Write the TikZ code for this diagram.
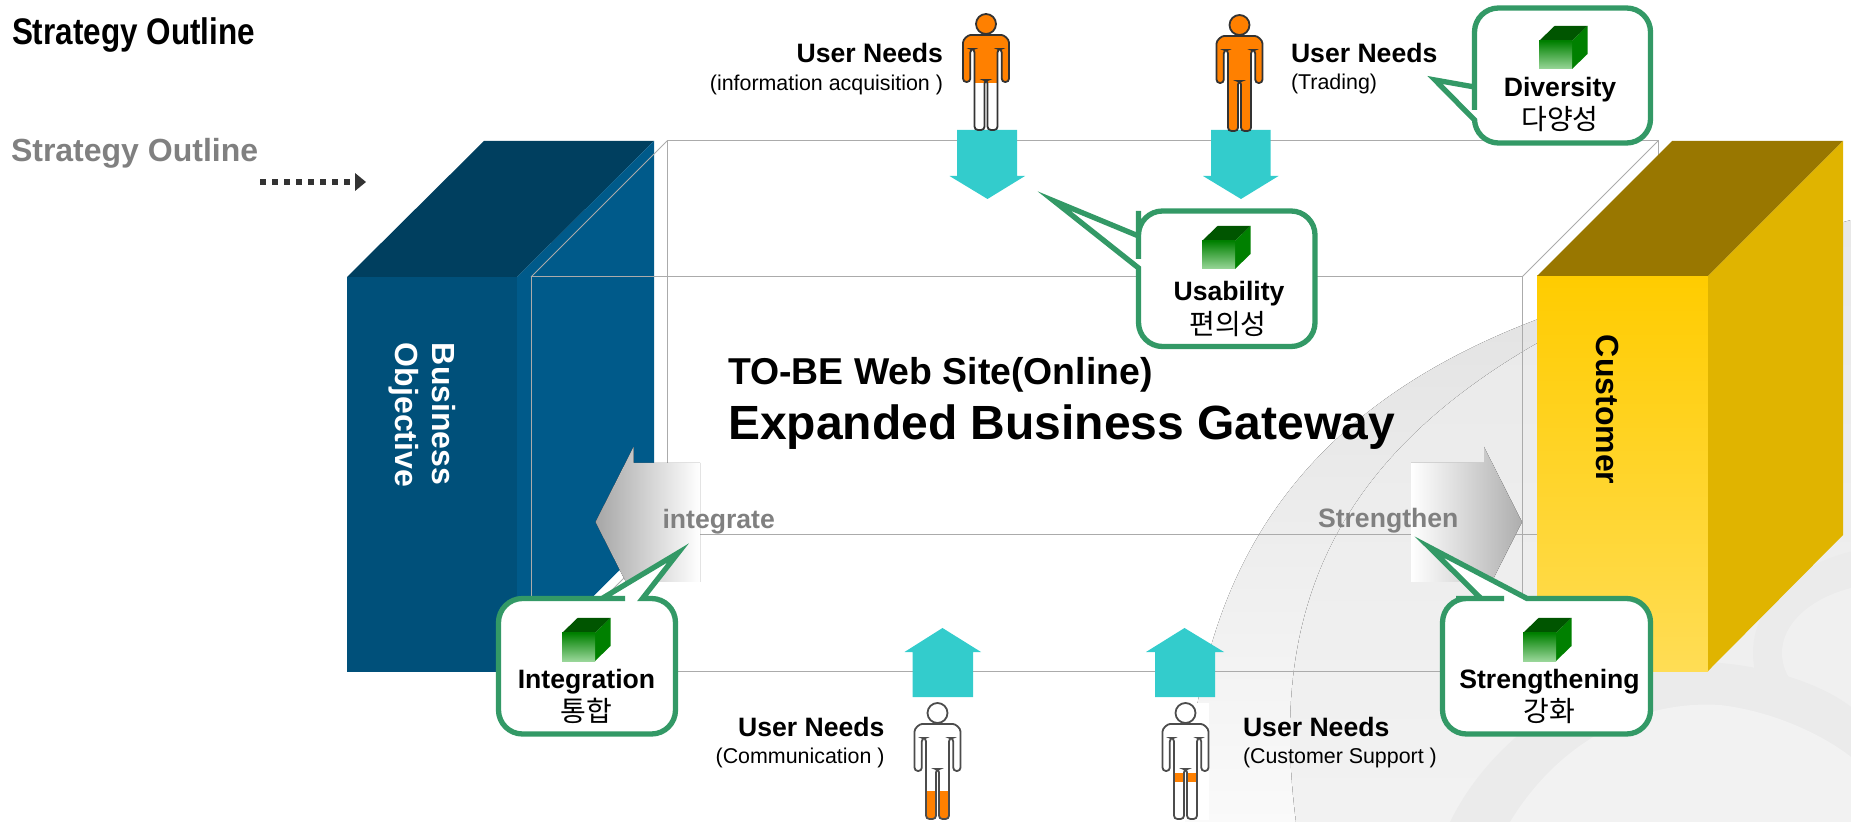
\documentclass[tikz,border=0pt]{standalone}
\usepackage{fontspec}
\setmainfont{Liberation Sans}
\newfontfamily\krfont{Noto Sans CJK KR}
\usepackage{tikz}

% Outline of a standing figure, head top at (0,0)
\newcommand{\figoutline}{(0,10) circle [radius=10]
	[rounded corners=1.7pt] (0,21) -- (-12,21) .. controls (-18,21) and (-23,25) .. (-23,32) -- (-23,68) -- (-15.7,68) -- (-15.7,35) -- (-11.5,35) -- (-11.5,116) -- (-1.5,116) -- (-1.5,66) -- (1.5,66) -- (1.5,116) -- (11.5,116) -- (11.5,35) -- (15.7,35) -- (15.7,68) -- (23,68) -- (23,32) .. controls (23,25) and (18,21) .. (12,21) -- cycle}

% Figure: x, y, outline colour, orange from, orange to
\newcommand{\userfig}[5]{
	\begin{scope}[shift={(#1,#2)}]
		\fill[white] \figoutline;
		\begin{scope}
			\clip \figoutline;
			\fill[needorange] (-30,#4) rectangle (30,#5);
		\end{scope}
		\draw[#3, line width=0.9pt] \figoutline;
	\end{scope}
}

% Small green cube: x and y of the front face corner
\newcommand{\greencube}[2]{
	\fill[cubetop] (#1,#2) -- ++(15.5,-15) -- ++(33,0) -- ++(-15.5,15) -- cycle;
	\fill[cubeside] (#1+33,#2) -- ++(15.5,-15) -- ++(0,28) -- ++(-15.5,15) -- cycle;
	\fill[top color=cubeside, bottom color=cubelight] (#1,#2) rectangle ++(33,28);
}

\definecolor{needorange}{HTML}{FF8000}
\definecolor{cubetop}{HTML}{005500}
\definecolor{cubeside}{HTML}{008000}
\definecolor{cubelight}{HTML}{99D699}
\definecolor{tealarrow}{HTML}{33CCCC}
\definecolor{calloutgreen}{HTML}{339966}
\definecolor{wiregray}{HTML}{ABABAB}
\definecolor{labelgray}{HTML}{808080}
\definecolor{bluefront}{HTML}{00507A}
\definecolor{blueside}{HTML}{005A8A}
\definecolor{bluetop}{HTML}{003F5F}
\definecolor{yellowfront}{HTML}{FFCC00}
\definecolor{yellowlow}{HTML}{FFDD55}
\definecolor{yellowtop}{HTML}{997700}
\definecolor{yellowside}{HTML}{E0B400}

\begin{document}
\begin{tikzpicture}[x=0.5pt, y=-0.5pt,
	every node/.style={inner sep=0pt, outer sep=0pt},
	wire/.style={draw=wiregray, line width=0.5pt},
	tealhead/.style={fill=tealarrow},
	callout/.style={draw=calloutgreen, fill=white, line width=2.65pt, miter limit=12},
	needs/.style={font=\bfseries\fontsize{13.3}{15}\selectfont},
	needsub/.style={font=\fontsize{10.7}{12}\selectfont},
	boxtitle/.style={font=\bfseries\fontsize{13.3}{15}\selectfont, anchor=base},
	boxkr/.style={font=\krfont\fontsize{14}{15}\selectfont, anchor=base},
	sidelabel/.style={font=\bfseries\fontsize{16}{18}\selectfont, rotate=-90, anchor=base west}]

	\useasboundingbox (0,0) rectangle (1851,822);

	% Light background rings
	\begin{scope}
		\clip (0,0) rectangle (1851,822);
		\fill[top color=black!12, bottom color=black!2] (1185,822) .. controls (1195,560) and (1300,310) .. (1851,250) -- (1851,822) -- cycle;
		\fill[top color=black!9, bottom color=black!5] (1296,822) .. controls (1265,580) and (1340,360) .. (1851,220) -- (1851,822) -- cycle;
		\fill[black!8] (1892,653) ellipse [x radius=139, y radius=106];
		\fill[black!6] (1892,653) ellipse [x radius=110, y radius=70];
		\fill[black!8] (1450,822) .. controls (1500,720) and (1620,655) .. (1720,663) .. controls (1780,668) and (1830,690) .. (1851,707) -- (1851,822) -- cycle;
		\fill[black!5] (1510,822) .. controls (1560,740) and (1640,700) .. (1720,705) .. controls (1780,712) and (1830,740) .. (1851,757) -- (1851,822) -- cycle;
	\end{scope}

	% Left block
	\fill[bluefront] (347,277) rectangle (517,672);
	\fill[bluetop] (347,277) -- (484,141) -- (654,141) -- (517,277) -- cycle;
	\fill[blueside] (517,277) -- (654,141) -- (654,536) -- (517,672) -- cycle;

	% Wire frame of the middle box
	\draw[wire] (667,141) rectangle (1658,535);
	\draw[wire] (531,277) rectangle (1522,671);
	\draw[wire] (531,277) -- (667,141);
	\draw[wire] (1522,277) -- (1658,141);
	\draw[wire] (531,671) -- (667,535);

	% Right block
	\fill[top color=yellowfront, bottom color=yellowlow] (1537,276) rectangle (1708,671);
	\fill[yellowtop] (1537,276) -- (1672,141) -- (1843,141) -- (1708,276) -- cycle;
	\fill[yellowside] (1708,276) -- (1843,141) -- (1843,535) -- (1708,671) -- cycle;

	% Gray arrows
	\fill[left color=black!35, right color=white] (595.5,522) -- (633.5,447) -- (633.5,463) -- (700,463) -- (700,582) -- (633.5,582) -- (633.5,597) -- cycle;
	\fill[left color=white, right color=black!32] (1522,522) -- (1484,447) -- (1484,463) -- (1411,463) -- (1411,582) -- (1484,582) -- (1484,597) -- cycle;

	% Teal arrows
	\fill[tealhead] (957,130) -- (1017,130) -- (1017,176) -- (1025,176) -- (987.5,199) -- (949.5,176) -- (957,176) -- cycle;
	\fill[tealhead] (1211,130) -- (1270.5,130) -- (1270.5,176) -- (1278.5,176) -- (1241,199) -- (1203,176) -- (1211,176) -- cycle;
	\fill[tealhead] (912.5,697) -- (973,697) -- (973,652) -- (981,652) -- (942.5,628) -- (904.5,652) -- (912.5,652) -- cycle;
	\fill[tealhead] (1155,697) -- (1215,697) -- (1215,652) -- (1224,652) -- (1184.5,628) -- (1146,652) -- (1155,652) -- cycle;

	% Figures
	\fill[white] (1163,703) rectangle (1209,820);
	\userfig{986}{14}{black!80}{0}{69}
	\userfig{1239.5}{15}{black!80}{0}{116}
	\userfig{937.5}{703}{black!70}{88}{116}
	\userfig{1185.5}{703}{black!70}{70}{79}

	% Callouts
	\draw[callout] (1138.5,236) -- (1054,201) -- (1138.5,268) -- (1138.5,269) [rounded corners=12pt] -- (1138.5,346.5) -- (1315,346.5) -- (1315,211) -- (1138.5,211) -- (1138.5,235) [sharp corners] -- cycle;
	\draw[callout] (1474.5,87) -- (1435,80) -- (1474.5,120) -- (1474.5,121) [rounded corners=12pt] -- (1474.5,143) -- (1650.5,143) -- (1650.5,8) -- (1474.5,8) -- (1474.5,86) [sharp corners] -- cycle;
	\draw[callout] (602,598.5) -- (678,553) -- (642.5,598.5) -- (643.5,598.5) [rounded corners=12pt] -- (675.5,598.5) -- (675.5,734) -- (498.5,734) -- (498.5,598.5) -- (601,598.5) [sharp corners] -- cycle;
	\draw[callout] (1481,598.5) -- (1429,547) -- (1527,598.5) -- (1528,598.5) [rounded corners=12pt] -- (1650.5,598.5) -- (1650.5,734) -- (1442.5,734) -- (1442.5,598.5) -- (1480,598.5) [sharp corners] -- cycle;
	\greencube{1202}{241}
	\greencube{1539}{41}
	\greencube{562}{633}
	\greencube{1523}{633}

	% Headings
	\node[anchor=base west, xscale=0.85, font=\bfseries\fontsize{18.5}{20}\selectfont] (heading) at (12,45) {Strategy Outline};
	\node[anchor=base west, text=labelgray, font=\bfseries\fontsize{16}{18}\selectfont] (outline) at (11,162) {Strategy Outline};
	\coordinate (dotstart) at (260,182);
	\coordinate (dotend) at (355,182);
	\draw[black!80, line width=2.7pt, dash pattern=on 3pt off 3pt] (dotstart) -- (dotend);
	\fill[black!80] (355,173) -- (366,182) -- (355,191) -- cycle;

	% Block labels
	\node[sidelabel, text=white] (business) at (432,343) {Business};
	\node[sidelabel, text=white] (objective) at (395,343) {Objective};
	\node[sidelabel] (customer) at (1596,335) {Customer};

	% Centre titles
	\node[anchor=base west, font=\bfseries\fontsize{18.7}{20}\selectfont] (tobe) at (728,385) {TO-BE Web Site(Online)};
	\node[anchor=base west, font=\bfseries\fontsize{24}{26}\selectfont] (gateway) at (728,440) {Expanded Business Gateway};
	\node[anchor=base west, text=labelgray, font=\bfseries\fontsize{13.3}{15}\selectfont] (integrate) at (662.5,529) {integrate};
	\node[anchor=base west, text=labelgray, font=\bfseries\fontsize{13.3}{15}\selectfont] (strengthen) at (1318,528) {Strengthen};

	% User needs labels
	\node[needs, anchor=base east] (needsA) at (943,62.5) {User Needs};
	\node[needsub, anchor=base east] (subA) at (943,91) {(information acquisition )};
	\node[needs, anchor=base west] (needsB) at (1291,62.5) {User Needs};
	\node[needsub, anchor=base west] (subB) at (1291,89.5) {(Trading)};
	\node[needs, anchor=base east] (needsC) at (884.5,736) {User Needs};
	\node[needsub, anchor=base east] (subC) at (884.5,763) {(Communication )};
	\node[needs, anchor=base west] (needsD) at (1243,736) {User Needs};
	\node[needsub, anchor=base west] (subD) at (1243,763) {(Customer Support )};

	% Callout texts
	\node[boxtitle] (usability) at (1229,301) {Usability};
	\node[boxkr] (usabilitykr) at (1228,335) {편의성};
	\node[boxtitle] (diversity) at (1560,97) {Diversity};
	\node[boxkr] (diversitykr) at (1560,130) {다양성};
	\node[boxtitle] (integration) at (586.5,688) {Integration};
	\node[boxkr] (integrationkr) at (586.5,721) {통합};
	\node[boxtitle] (strengthening) at (1549.5,688) {Strengthening};
	\node[boxkr] (strengtheningkr) at (1549.5,721) {강화};
\end{tikzpicture}
\end{document}
